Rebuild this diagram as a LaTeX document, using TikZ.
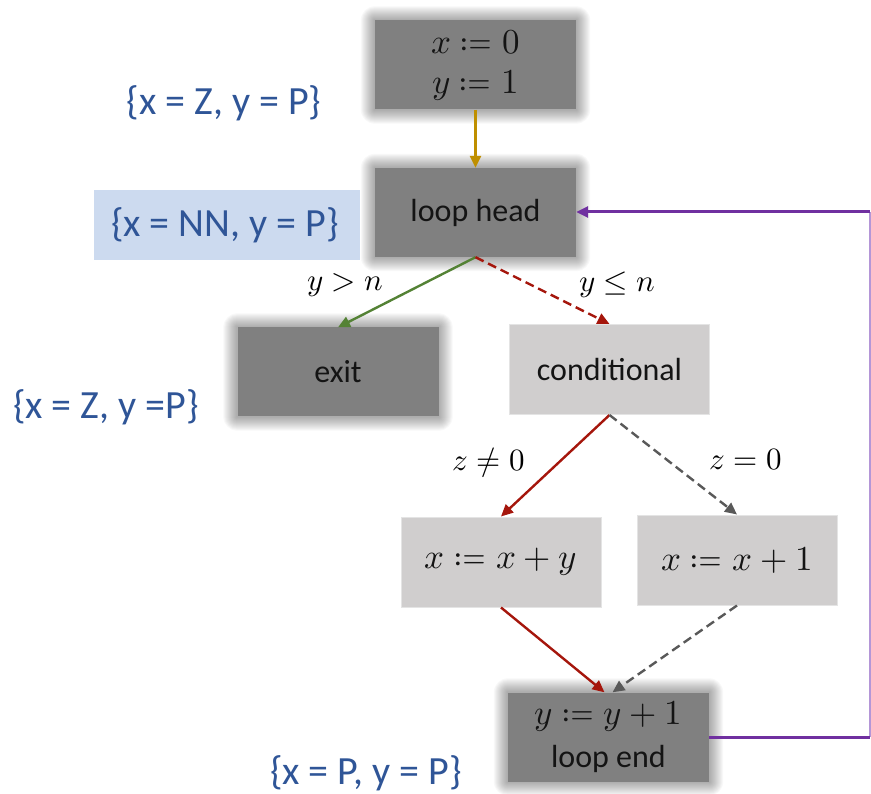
\documentclass[tikz,border=0pt]{standalone}
\usepackage{fontspec}
\usepackage{unicode-math}
\setmainfont{Carlito}
\setmathfont{Latin Modern Math}
\usetikzlibrary{arrows.meta,calc,backgrounds}
\definecolor{darkbox}{RGB}{128,128,128}
\definecolor{lightbox}{RGB}{208,206,206}
\definecolor{lightedge}{RGB}{228,228,228}
\definecolor{gold}{RGB}{191,143,0}
\definecolor{grn}{RGB}{84,130,53}
\definecolor{dred}{RGB}{165,22,12}
\definecolor{dgray}{RGB}{89,89,89}
\definecolor{purp}{RGB}{112,48,160}
\definecolor{lpurp}{RGB}{180,150,215}
\definecolor{blab}{RGB}{47,85,151}
\definecolor{lblue}{RGB}{204,218,239}
\definecolor{txt}{RGB}{20,20,20}
\newcommand{\bm}[1]{{\fontsize{35}{40}\selectfont$#1$}}
\tikzset{
  darkstep/.style={fill=darkbox, text=txt, minimum width=201pt, minimum height=89pt, inner sep=0pt, align=center, font=\fontsize{32}{40}\selectfont},
  lightstep/.style={fill=lightbox, text=txt, draw=lightedge, line width=1pt, minimum width=200pt, minimum height=90pt, inner sep=0pt, align=center, font=\fontsize{32}{40}\selectfont},
  statelab/.style={text=blab, font=\fontsize{40}{44}\selectfont, inner sep=0pt},
  edgelab/.style={font=\fontsize{31}{34}\selectfont, inner sep=0pt},
  tip/.style={-{Triangle[length=12pt,width=11pt]}, line width=2.4pt},
  dsh/.style={dash pattern=on 9pt off 5pt},
}
\newcommand{\glowbox}[1]{%
  \foreach \r in {1,...,14} {
    \fill[black, opacity=0.026, rounded corners=\r pt] ($(#1.south west)+(-\r,\r)$) rectangle ($(#1.north east)+(\r,-\r)$);
  }}
\begin{document}
\begin{tikzpicture}[x=1pt,y=-1pt]
\useasboundingbox (0,0) rectangle (871,794);
% nodes
\node[darkstep] (init) at (475.5,65) {\bm{x \coloneq 0}\\[0pt]\bm{y \coloneq 1}};
\node[darkstep] (head) at (475.5,212.5) {loop head};
\node[darkstep] (exit) at (338,372) {exit};
\node[lightstep] (cond) at (609.5,369.5) {conditional};
\node[lightstep] (xy) at (501,562) {\bm{x \coloneq x + y}};
\node[lightstep] (x1) at (737,560) {\bm{x \coloneq x + 1}};
\node[darkstep] (end) at (608.5,737) {\bm{y \coloneq y + 1}\\[3pt]loop end};
\begin{pgfonlayer}{background}
\glowbox{init}\glowbox{head}\glowbox{exit}\glowbox{end}
\end{pgfonlayer}
% state labels
\node[fill=lblue, minimum width=266pt, minimum height=70pt, inner sep=0pt] (bg) at (227,225) {};
\node[statelab] (s1) at (224,103) {\{x = Z, y = P\}};
\node[statelab] (s2) at (225,225) {\{x = NN, y = P\}};
\node[statelab] (s3) at (106,407) {\{x = Z, y =P\}};
\node[statelab] (s4) at (366,773) {\{x = P, y = P\}};
% edges
\draw[tip, gold] (init.south) -- (head.north);
\draw[tip, grn] (head.south) -- (exit.north);
\draw[tip, dred, dsh] (head.south) -- (cond.north);
\draw[tip, dred] (cond.south) -- (xy.north);
\draw[tip, dgray, dsh] (cond.south) -- (x1.north);
\coordinate (endA) at ($(end.north)+(-4,0)$);
\coordinate (endB) at ($(end.north)+(4,0)$);
\draw[tip, dred] (xy.south) -- (endA);
\draw[tip, dgray, dsh] (x1.south) -- (endB);
% back edge
\coordinate (br) at (870,737);
\coordinate (tr) at (870,212);
\draw[lpurp, line width=1.2pt] (br) -- (tr);
\draw[purp, line width=3pt] (end.east |- br) -- (br);
\draw[tip, purp, line width=3pt] (tr) -- (head.east |- tr);
% edge labels
\node[edgelab] (l1) at (345,285) {$y > n$};
\node[edgelab] (l2) at (617,285) {$y \leq n$};
\node[edgelab] (l3) at (489,463) {$z \neq 0$};
\node[edgelab] (l4) at (746,460) {$z = 0$};
\end{tikzpicture}
\end{document}
